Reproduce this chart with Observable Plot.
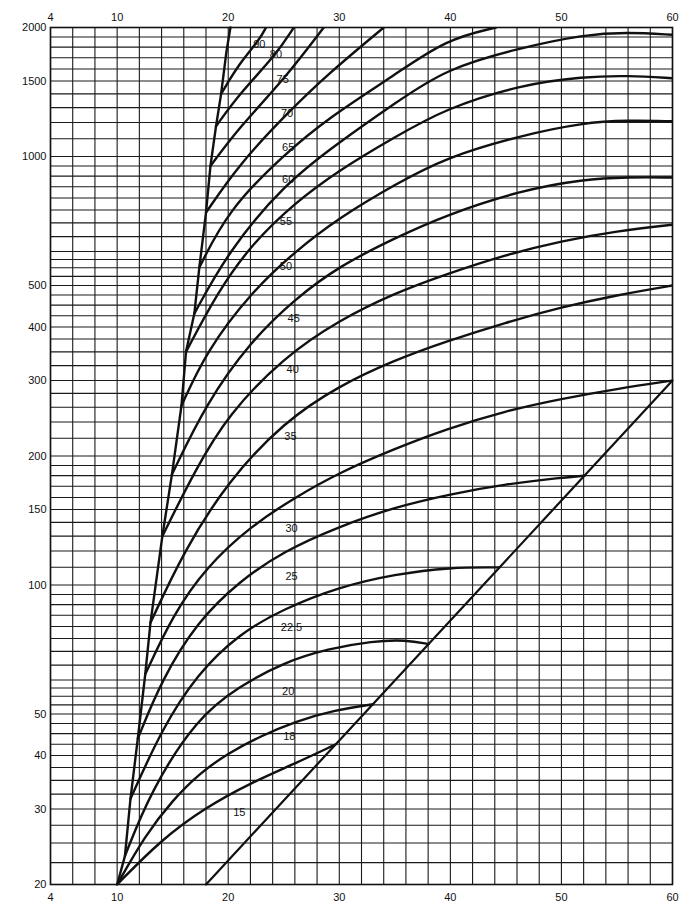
<!DOCTYPE html>
<html><head><meta charset="utf-8">
<script src="https://cdn.jsdelivr.net/npm/d3@7"></script>
<script src="https://cdn.jsdelivr.net/npm/@observablehq/plot@0.6"></script>
<style>body{margin:0;background:#fff;}</style>
</head><body><div id="chart"></div>
<script>
const xTicks = [4, 10, 20, 30, 40, 50, 60];
const yTicks = [20, 30, 40, 50, 60, 80, 100, 150, 200, 300, 400, 500, 600, 800, 1000, 1500, 2000];

const curveNames = ["15", "18", "20", "22.5", "25", "30", "35", "40", "45", "50", "55", "60", "65", "70", "75", "80", "90"];
const c15 = [[10,20],[14,25.5],[18,30.3],[22,34.5],[26,38.3],[29.7,42.5]];
const c18 = [[10,20],[12.5,26],[15,31.5],[17.5,36.5],[20,40.5],[23,44.5],[26,48],[29.5,51],[33.05,52.7]];
const c20 = [[10.7,23.3],[13,33],[17.2,49],[21,58],[25,66],[29,71],[33,74],[36,74.5],[38.05,72.8]];
const c225 = [[11.2,31.7],[14,46],[17.2,62],[21,77],[25,88],[30,99],[35,106],[40,110],[44.4,109.9]];
const c25 = [[11.86,43.8],[14,60],[17.2,82],[21,102],[25,120],[30,137],[35,152],[40,163],[45,172],[50,178],[52.1,180]];
const c30 = [[12.53,61.9],[15,85],[18,110],[22,137],[26,160],[30,183],[35,208],[39.6,231],[45,255],[50,272],[55,287],[60,300]];
const c35 = [[13,81.6],[16,120],[20,175],[25,240],[30,292],[35,335],[39.6,370],[45,410],[50,445],[55,475],[60,500]];
const c40 = [[14.07,130],[17,185],[20,250],[25,340],[30,415],[35,480],[39.6,531],[45,590],[50,635],[55,670],[60,693]];
const c45 = [[14.93,181],[18,265],[22,370],[26,465],[30,555],[35,645],[39.6,730],[46.3,833],[52,885],[56,895],[60,893]];
const c50 = [[15.79,262],[18,350],[22,480],[26,600],[30,720],[35,860],[39.6,995],[46.3,1119],[52,1200],[56,1215],[60,1208]];
const c55 = [[16.2,350],[19,480],[22,620],[26,780],[30,930],[35,1110],[39.6,1295],[46.3,1470],[52,1536],[56,1545],[60,1523]];
const c60 = [[16.95,430],[20,600],[25,860],[30,1080],[35,1330],[39.6,1603],[46.3,1792],[52,1925],[56,1950],[60,1923]];
const c65 = [[17.4,551],[20,750],[25,1010],[29,1230],[35,1550],[39.6,1876],[44.1,2000]];
const c70 = [[18,740],[21,960],[25.3,1261],[29,1560],[34,2000]];
const c75 = [[18.4,950],[21,1170],[25,1510],[28.6,2000]];
const c80 = [[18.9,1176],[21,1400],[24.3,1727],[25.9,2000]];
const c90 = [[19.36,1400],[21,1650],[22.8,1870],[23.4,2000]];
const curvePoints = [c15, c18, c20, c225, c25, c30, c35, c40, c45, c50, c55, c60, c65, c70, c75, c80, c90];

const boundary = [[10,20],[10.7,23.3],[11.2,31.7],[11.86,43.8],[12.53,61.9],[13,81.6],[14.07,130],[14.93,181],[15.79,262],[16.2,350],[16.95,430],[17.4,551],[18,740],[18.4,950],[18.9,1176],[19.36,1400],[19.84,1757],[20.2,2000]];
const diagonal = [[18,20],[60,300]];

const labelX = [21.0, 25.5, 25.4, 25.7, 25.7, 25.7, 25.6, 25.8, 25.9, 25.2, 25.2, 25.4, 25.4, 25.3, 24.9, 24.3, 22.8];
const labelY = [29.4, 44.3, 56.4, 79.5, 104.6, 135.5, 222, 318, 419, 553, 706, 883, 1047, 1261, 1509, 1727, 1828];

const rows = curveNames.flatMap((n, i) => curvePoints[i].map(([x, y]) => ({c: n, x, y})));
const labels = curveNames.map((n, i) => ({t: n, x: labelX[i], y: labelY[i]}));
const xGrid = d3.range(4, 61, 2);
const yGrid = [...d3.range(20, 60, 2.5), ...d3.range(60, 100, 5), ...d3.range(100, 200, 10),
  ...d3.range(200, 300, 20), ...d3.range(300, 600, 25), ...d3.range(600, 1000, 50), ...d3.range(1000, 2001, 100)];

const chart = Plot.plot({
  width: 690, height: 919,
  marginLeft: 50, marginRight: 18, marginTop: 27, marginBottom: 35,
  style: {fontFamily: "'Liberation Sans', Arial, sans-serif", fontSize: "11px", color: "#111", background: "#fff"},
  x: {domain: [4, 60]},
  y: {type: "log", domain: [20, 2000]},
  marks: [
    Plot.ruleX(xGrid, {stroke: "#1a1a1a", strokeWidth: 1.1}),
    Plot.ruleY(yGrid, {stroke: "#1a1a1a", strokeWidth: 1.1}),
    Plot.frame({stroke: "#111", strokeWidth: 1.6}),
    Plot.axisX({anchor: "top", ticks: xTicks, tickSize: 0, tickPadding: 7, label: null}),
    Plot.axisX({anchor: "bottom", ticks: xTicks, tickSize: 0, tickPadding: 9, label: null}),
    Plot.axisY({ticks: yTicks, tickSize: 0, tickPadding: 4, tickFormat: d => String(d), label: null}),
    Plot.line(boundary, {x: d => d[0], y: d => d[1], stroke: "#111", strokeWidth: 2.4}),
    Plot.line(diagonal, {x: d => d[0], y: d => d[1], stroke: "#111", strokeWidth: 2.2}),
    Plot.line(rows, {x: "x", y: "y", z: "c", curve: "basis", stroke: "#111", strokeWidth: 2.4, clip: true}),
    Plot.text(labels, {x: "x", y: "y", text: "t", fill: "#111", fontSize: 11})
  ]
});
document.getElementById("chart").appendChild(chart);
</script>
</body></html>
